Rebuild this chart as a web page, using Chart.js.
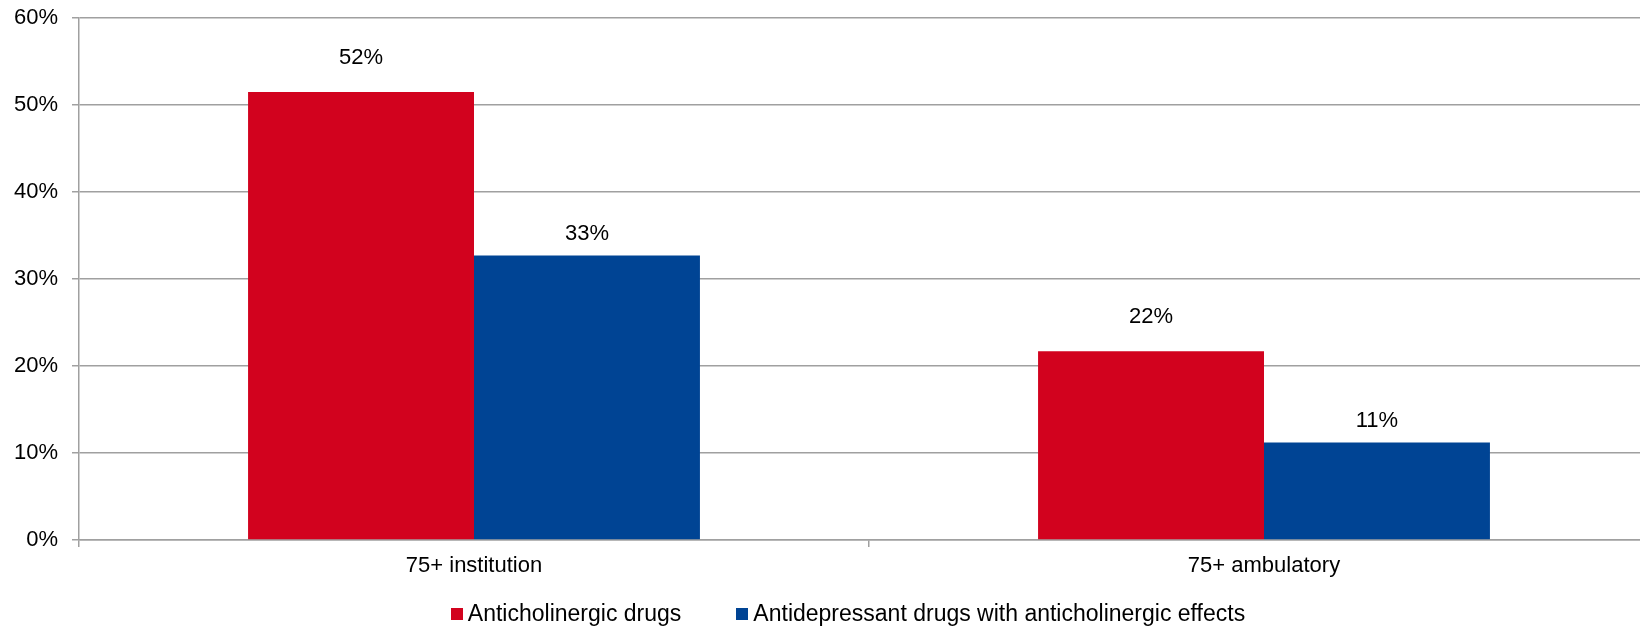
<!DOCTYPE html>
<html>
<head>
<meta charset="utf-8">
<script src="https://cdn.jsdelivr.net/npm/chart.js@4/dist/chart.umd.min.js"></script>
<style>
  html, body { margin: 0; padding: 0; background: #ffffff; }
  #wrap { position: relative; width: 1640px; height: 627px; overflow: hidden; background: #fff; }
  #c { position: absolute; left: 0; top: 0; }
  #legend { position: absolute; left: 0; top: 601.5px; width: 1696px; height: 24px; display: flex; justify-content: center; align-items: flex-start; gap: 55px; }
  .lg-item { display: flex; align-items: flex-start; }
  .lg-box { width: 12px; height: 12px; margin-top: 6.5px; margin-right: 5px; }
  .lg-text { font-family: "Liberation Sans", Arial, sans-serif; font-size: 23px; line-height: 23px; color: #000; white-space: nowrap; }
</style>
</head>
<body>
<div id="wrap">
  <canvas id="c" width="1696" height="627"></canvas>
  <div id="legend"></div>
</div>
<script>
const categories = ["75+ institution", "75+ ambulatory"];
const seriesNames = ["Anticholinergic drugs", "Antidepressant drugs with anticholinergic effects"];
const anticholinergic = [51.5, 21.7];
const antidepressant = [32.7, 11.2];
const yTicks = [0, 10, 20, 30, 40, 50, 60];

const colors = ["#d2021e", "#004494"];
const labelOffsets = [34, 22];
const gridColor = "#a0a0a0";
const fontFamily = "'Liberation Sans', Arial, sans-serif";

const dataLabelPlugin = {
  id: "dataLabels",
  afterDatasetsDraw(chart) {
    const ctx = chart.ctx;
    ctx.save();
    ctx.font = "22px " + fontFamily;
    ctx.fillStyle = "#000";
    ctx.textAlign = "center";
    ctx.textBaseline = "middle";
    chart.data.datasets.forEach((ds, i) => {
      const meta = chart.getDatasetMeta(i);
      meta.data.forEach((bar, j) => {
        ctx.fillText(Math.round(ds.data[j]) + "%", bar.x, bar.y - labelOffsets[i]);
      });
    });
    ctx.restore();
  }
};

const whiteBg = {
  id: "whiteBg",
  beforeDraw(chart) {
    const ctx = chart.ctx;
    ctx.save();
    ctx.fillStyle = "#fff";
    ctx.fillRect(0, 0, chart.width, chart.height);
    ctx.restore();
  }
};

new Chart(document.getElementById("c"), {
  type: "bar",
  data: {
    labels: categories,
    datasets: [
      { label: seriesNames[0], data: anticholinergic, backgroundColor: colors[0], categoryPercentage: 0.572, barPercentage: 1.0 },
      { label: seriesNames[1], data: antidepressant, backgroundColor: colors[1], categoryPercentage: 0.572, barPercentage: 1.0 }
    ]
  },
  options: {
    responsive: false,
    devicePixelRatio: 1,
    animation: false,
    layout: { padding: { left: 0, right: 37, top: 18, bottom: 42 } },
    plugins: {
      legend: { display: false },
      tooltip: { enabled: false }
    },
    scales: {
      x: {
        offset: true,
        grid: { display: true, offset: true, drawOnChartArea: false, drawTicks: true, tickLength: 7, color: gridColor, lineWidth: 1.5 },
        border: { display: true, color: gridColor, width: 1.5 },
        ticks: { color: "#000", padding: 6, font: { family: fontFamily, size: 22 }, maxRotation: 0 },
        afterFit(scale) { scale.height = 45; scale.paddingLeft = 0; scale.paddingRight = 0; }
      },
      y: {
        min: 0, max: 60,
        afterBuildTicks(scale) { scale.ticks = yTicks.map(v => ({ value: v })); },
        grid: { color: gridColor, lineWidth: 1.5, drawTicks: true, tickLength: 7 },
        border: { display: true, color: gridColor, width: 1.5 },
        ticks: { color: "#000", padding: 14, font: { family: fontFamily, size: 22 }, callback: v => v + "%" },
        afterFit(scale) { scale.width = 79; scale.paddingTop = 0; scale.paddingBottom = 0; }
      }
    }
  },
  plugins: [whiteBg, dataLabelPlugin]
});

const legend = document.getElementById("legend");
seriesNames.forEach((name, i) => {
  const item = document.createElement("div");
  item.className = "lg-item";
  const box = document.createElement("div");
  box.className = "lg-box";
  box.style.background = colors[i];
  const t = document.createElement("div");
  t.className = "lg-text";
  t.textContent = name;
  item.appendChild(box);
  item.appendChild(t);
  legend.appendChild(item);
});
</script>
</body>
</html>
